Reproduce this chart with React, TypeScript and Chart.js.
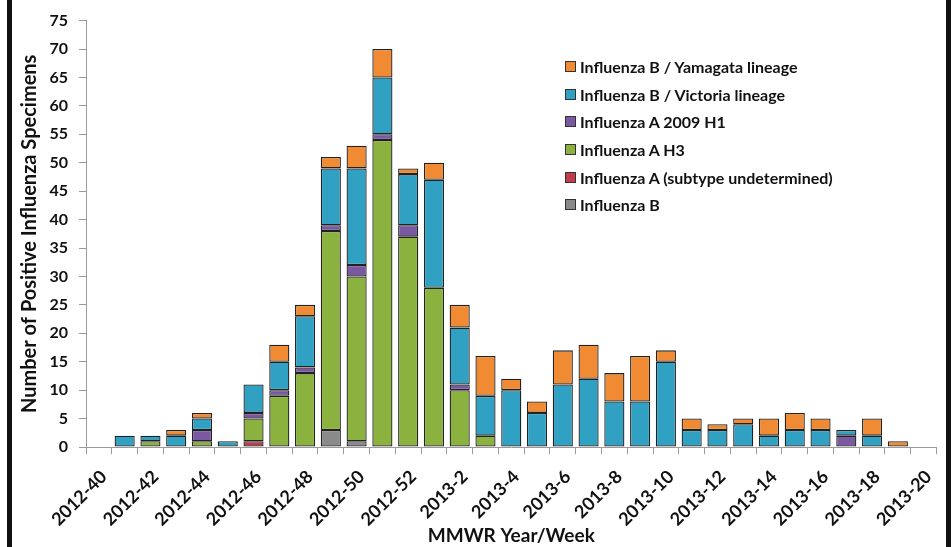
import React, { useEffect, useRef } from "react";
import { Chart, registerables } from "chart.js";

Chart.register(...registerables);

const weeks = [
  "2012-40", "2012-41", "2012-42", "2012-43", "2012-44", "2012-45", "2012-46",
  "2012-47", "2012-48", "2012-49", "2012-50", "2012-51", "2012-52",
  "2013-1", "2013-2", "2013-3", "2013-4", "2013-5", "2013-6", "2013-7",
  "2013-8", "2013-9", "2013-10", "2013-11", "2013-12", "2013-13", "2013-14",
  "2013-15", "2013-16", "2013-17", "2013-18", "2013-19", "2013-20",
];

const influenzaB = [0, 0, 0, 0, 0, 0, 0, 0, 0, 3, 1, 0, 0, 0, 0, 0, 0, 0, 0, 0, 0, 0, 0, 0, 0, 0, 0, 0, 0, 0, 0, 0, 0];
const influenzaAUndetermined = [0, 0, 0, 0, 0, 0, 1, 0, 0, 0, 0, 0, 0, 0, 0, 0, 0, 0, 0, 0, 0, 0, 0, 0, 0, 0, 0, 0, 0, 0, 0, 0, 0];
const influenzaAH3 = [0, 0, 1, 0, 1, 0, 4, 9, 13, 35, 29, 54, 37, 28, 10, 2, 0, 0, 0, 0, 0, 0, 0, 0, 0, 0, 0, 0, 0, 0, 0, 0, 0];
const influenzaA2009H1 = [0, 0, 0, 0, 2, 0, 1, 1, 1, 1, 2, 1, 2, 0, 1, 0, 0, 0, 0, 0, 0, 0, 0, 0, 0, 0, 0, 0, 0, 2, 0, 0, 0];
const influenzaBVictoria = [0, 2, 1, 2, 2, 1, 5, 5, 9, 10, 17, 10, 9, 19, 10, 7, 10, 6, 11, 12, 8, 8, 15, 3, 3, 4, 2, 3, 3, 1, 2, 0, 0];
const influenzaBYamagata = [0, 0, 0, 1, 1, 0, 0, 3, 2, 2, 4, 5, 1, 3, 4, 7, 2, 2, 6, 6, 5, 8, 2, 2, 1, 1, 3, 3, 2, 0, 3, 1, 0];

const yTicks = [0, 5, 10, 15, 20, 25, 30, 35, 40, 45, 50, 55, 60, 65, 70, 75];

const series = [
  { label: "Influenza B", data: influenzaB, color: "#8a8a8a" },
  { label: "Influenza A (subtype undetermined)", data: influenzaAUndetermined, color: "#c23b4b" },
  { label: "Influenza A H3", data: influenzaAH3, color: "#8bb13f" },
  { label: "Influenza A 2009 H1", data: influenzaA2009H1, color: "#7b58a2" },
  { label: "Influenza B / Victoria lineage", data: influenzaBVictoria, color: "#30a0c3" },
  { label: "Influenza B / Yamagata lineage", data: influenzaBYamagata, color: "#f08a33" },
];

const FONT = "Lato, 'Open Sans', sans-serif";

export default function App() {
  const ref = useRef<HTMLCanvasElement | null>(null);

  useEffect(() => {
    document.body.style.margin = "0";
    const canvas = ref.current;
    if (!canvas) return;
    const chart = new Chart(canvas, {
      type: "bar",
      data: {
        labels: weeks,
        datasets: series.map((s) => ({
          label: s.label,
          data: s.data.map((v) => (v === 0 ? null : v)),
          backgroundColor: s.color,
          borderColor: "#222",
          borderWidth: 1.3,
          borderSkipped: false,
          categoryPercentage: 1,
          barPercentage: 0.78,
        })),
      },
      options: {
        animation: false,
        responsive: false,
        devicePixelRatio: 1,
        layout: { padding: { left: 0, right: 6, top: 15, bottom: 0 } },
        plugins: {
          legend: { display: false },
          tooltip: { enabled: false },
        },
        scales: {
          x: {
            stacked: true,
            offset: true,
            grid: {
              offset: true,
              drawOnChartArea: false,
              drawTicks: true,
              tickLength: 7,
              color: "#9a9a9a",
            },
            border: { color: "#9a9a9a", width: 1 },
            ticks: {
              autoSkip: false,
              minRotation: 45,
              maxRotation: 45,
              padding: 12,
              labelOffset: 5,
              color: "#111",
              font: { family: FONT, size: 18, weight: "bold" },
              callback: (_v: any, i: number) => (i % 2 === 0 ? weeks[i] : ""),
            },
            title: {
              display: true,
              text: "MMWR Year/Week",
              color: "#111",
              font: { family: FONT, size: 19, weight: "bold" },
              padding: { top: 0, bottom: 0 },
            },
            afterFit: (scale: any) => {
              scale.height = 100;
            },
          },
          y: {
            stacked: true,
            min: 0,
            max: 75,
            afterBuildTicks: (scale: any) => {
              scale.ticks = yTicks.map((v) => ({ value: v }));
            },
            grid: {
              drawOnChartArea: false,
              drawTicks: true,
              tickLength: 7,
              color: "#9a9a9a",
            },
            border: { color: "#9a9a9a", width: 1 },
            ticks: {
              padding: 11,
              color: "#111",
              font: { family: FONT, size: 16, weight: "bold" },
            },
            title: {
              display: true,
              text: "Number of Positive Influenza Specimens",
              color: "#111",
              font: { family: FONT, size: 20, weight: "bold" },
              padding: { top: 18, bottom: 0 },
            },
            afterFit: (scale: any) => {
              scale.width = 86;
            },
          },
        },
      } as any,
    });
    return () => chart.destroy();
  }, []);

  const legendItems = [...series].reverse();

  return (
    <div style={{ position: "relative", width: 951, height: 547, background: "#fff", overflow: "hidden" }}>
      <canvas ref={ref} width={951} height={547} style={{ display: "block", width: 951, height: 547 }} />
      <div style={{ position: "absolute", left: 7, top: 0, width: 5, height: 547, background: "#111" }} />
      <div style={{ position: "absolute", left: 946, top: 0, width: 5, height: 547, background: "#111" }} />
      <div style={{ position: "absolute", left: 565, top: 53, fontFamily: FONT }}>
        {legendItems.map((s) => (
          <div
            key={s.label}
            style={{ display: "flex", alignItems: "center", height: 27.6, fontSize: 16, fontWeight: 700, color: "#111", whiteSpace: "nowrap" }}
          >
            <span
              style={{ display: "inline-block", width: 9, height: 9, background: s.color, border: "1px solid #333", marginRight: 4 }}
            />
            {s.label}
          </div>
        ))}
      </div>
    </div>
  );
}
